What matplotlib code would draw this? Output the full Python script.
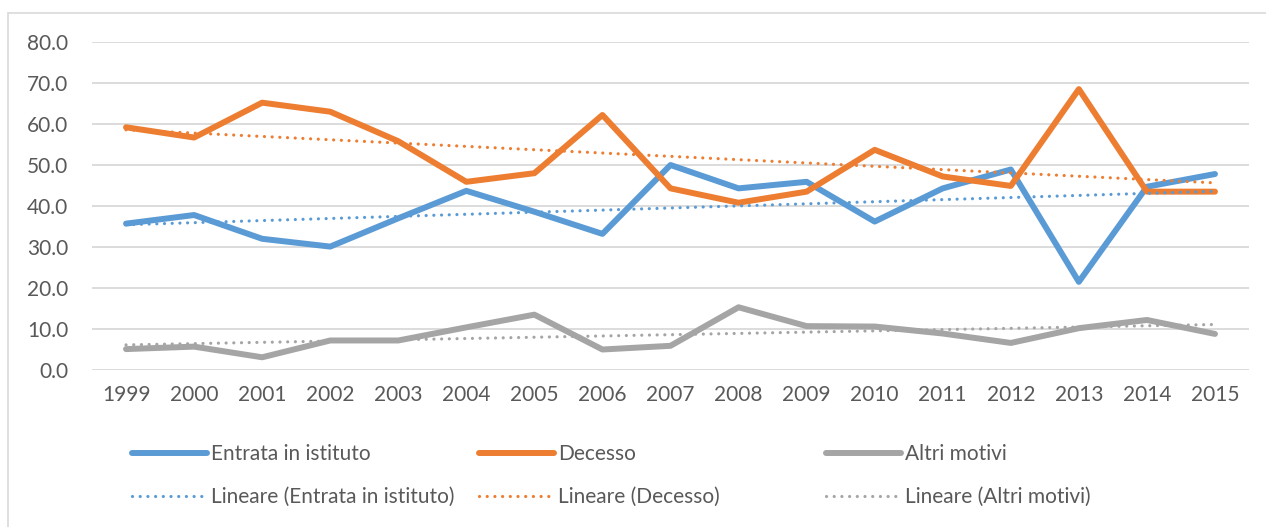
import numpy as np
import matplotlib.pyplot as plt
from matplotlib.patches import Rectangle

plt.rcParams['font.family'] = ['Lato', 'DejaVu Sans']

# data
years = [str(y) for y in range(1999, 2016)]
entrata = [35.7, 37.8, 32.0, 30.1, 37.0, 43.7, 38.6, 33.2, 50.0,
           44.3, 45.9, 36.2, 44.3, 48.9, 21.5, 44.7, 47.8]
decesso = [59.2, 56.7, 65.2, 63.0, 55.8, 45.9, 48.0, 62.2, 44.3,
           40.8, 43.5, 53.7, 47.2, 44.9, 68.5, 43.5, 43.5]
altri = [5.1, 5.7, 3.1, 7.2, 7.2, 10.4, 13.5, 5.0, 5.9,
         15.3, 10.7, 10.6, 8.9, 6.6, 10.2, 12.2, 8.8]

series = [('Entrata in istituto', entrata, '#5B9BD5'),
          ('Decesso', decesso, '#ED7D31'),
          ('Altri motivi', altri, '#A5A5A5')]

W, H = 1266, 527
fig = plt.figure(figsize=(W / 100, H / 100), dpi=100)
ax = fig.add_axes([92 / W, 1 - 370 / H, (1249 - 92) / W, (370 - 42) / H])

# chart area border
fig.patches.append(Rectangle((8 / W, -0.1), 1.1, 1 - 13 / H + 0.1,
                             transform=fig.transFigure, fill=False,
                             edgecolor='#D9D9D9', lw=1.2))

x = np.arange(len(years))
main_handles, trend_handles = [], []
for name, vals, col in series:
    h, = ax.plot(x, vals, color=col, lw=4.3, solid_capstyle='round',
                 solid_joinstyle='round', label=name)
    main_handles.append(h)
for name, vals, col in series:
    k, b = np.polyfit(x, vals, 1)
    t, = ax.plot(x, k * x + b, color=col, lw=2.3, linestyle=(0, (0.01, 2.4)),
                 dash_capstyle='round', label=f'Lineare ({name})')
    trend_handles.append(t)

ax.set_xlim(-0.5, len(years) - 0.5)
ax.set_ylim(0, 80)
ax.set_yticks(np.arange(0, 81, 10))
ax.set_yticklabels([f'{v:.1f}' for v in np.arange(0, 81, 10)])
ax.set_xticks(x)
ax.set_xticklabels(years)
ax.grid(axis='y', color='#D9D9D9', lw=1.3)
ax.set_axisbelow(True)
for s in ax.spines.values():
    s.set_visible(False)
ax.tick_params(length=0, labelsize=15, colors='#595959')
ax.tick_params(axis='y', pad=17)
ax.tick_params(axis='x', pad=11)

# legend, three columns at fixed positions
for i, px in enumerate([132, 479, 826]):
    leg = fig.legend(handles=[main_handles[i], trend_handles[i]],
                     loc='upper left', bbox_to_anchor=(px / W, 1 - 444 / H),
                     frameon=False, fontsize=15, handlelength=3.6,
                     handletextpad=0.2, borderpad=0, borderaxespad=0,
                     labelspacing=1.1, labelcolor='#595959')

fig.savefig('out.png', dpi=100)
